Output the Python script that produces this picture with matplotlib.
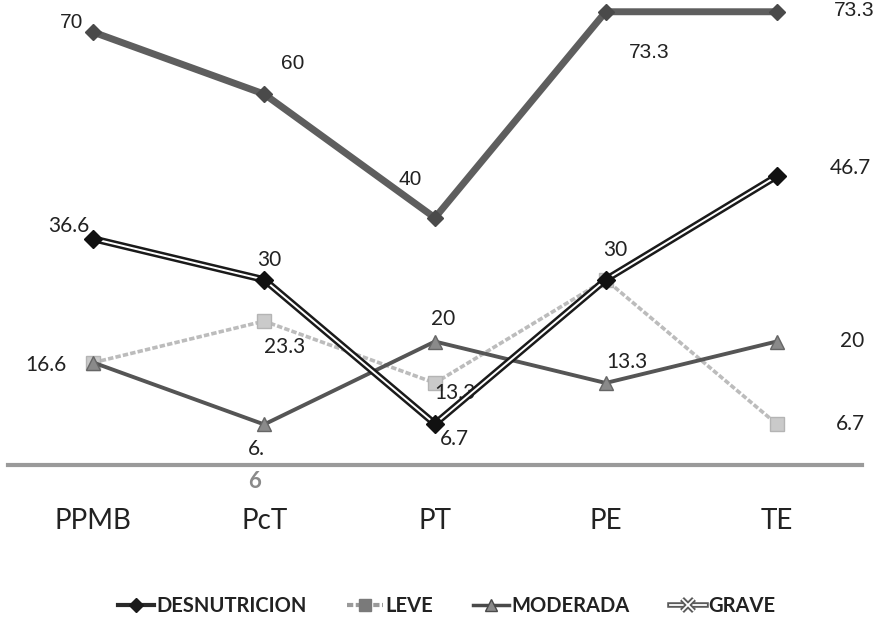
import matplotlib
matplotlib.use("Agg")
import matplotlib.pyplot as plt
from matplotlib.lines import Line2D
import matplotlib.patheffects as pe

categories = ["PPMB", "PcT", "PT", "PE", "TE"]
desnutricion = [70, 60, 40, 73.3, 73.3]
leve = [16.6, 23.3, 13.3, 30, 6.7]
moderada = [16.6, 6.6, 20, 13.3, 20]
grave = [36.6, 30, 6.7, 30, 46.7]
legend_labels = ["DESNUTRICION", "LEVE", "MODERADA", "GRAVE"]

fig = plt.figure(figsize=(8.84, 6.4), dpi=100)
ax = fig.add_axes([0.009, 0.273, 0.966, 0.727])
x = list(range(len(categories)))

# LEVE (light dotted)
ax.plot(x, leve, color="#bcbcbc", lw=2.6, ls=(0, (1.5, 0.6)), marker="s",
        ms=10, mfc="#cacaca", mec="#b4b4b4", zorder=2)
# MODERADA
ax.plot(x, moderada, color="#555555", lw=2.8, marker="^", ms=10,
        mfc="#8a8a8a", mec="#666666", zorder=3)
# DESNUTRICION
ax.plot(x, desnutricion, color="#5e5e5e", lw=5, marker="D", ms=8,
        mfc="#4a4a4a", mec="#4a4a4a", zorder=4)
# GRAVE double line
ax.plot(x, grave, color="#1a1a1a", lw=5, zorder=5, solid_capstyle="butt")
ax.plot(x, grave, color="white", lw=1.4, zorder=6)
ax.plot(x, grave, ls="none", marker="D", ms=9, mfc="#111111", mec="#111111", zorder=7)

ax.set_xlim(-0.5, 4.5)
ax.set_ylim(0, 75.2)
for s in ["top", "right", "left"]:
    ax.spines[s].set_visible(False)
ax.spines["bottom"].set_color("#9a9a9a")
ax.spines["bottom"].set_linewidth(3)
ax.set_yticks([])
ax.set_xticks(x)
ax.set_xticklabels(categories, fontsize=20, family="Lato", color="#222222")
ax.tick_params(axis="x", length=0, pad=31)

lab = dict(fontsize=15, color="#222222", family="Lato")
arial = dict(fontsize=15, color="#222222", family="Liberation Sans")

def ann(xi, yi, txt, dx, dy, ha="center", **kw):
    ax.annotate(txt, (xi, yi), xytext=(dx, dy), textcoords="offset pixels",
                ha=ha, va="center", annotation_clip=False, **kw)

# DESNUTRICION labels
ann(0, desnutricion[0], "70", -22, 10, **arial)
ann(1, desnutricion[1], "60", 29, 31, **arial)
ann(2, desnutricion[2], "40", -25, 38, **arial)
ann(3, desnutricion[3], "73.3", 43, -41, **arial)
ann(4, desnutricion[4], "73.3", 78, 1, **arial)

# GRAVE labels
ann(0, grave[0], "36.6", -25, 13, **lab)
ann(1, grave[1], "30", 5, 20, **lab)
ann(2, grave[2], "6.7", 20, -15, **lab)
ann(3, grave[3], "30", 10, 30, **lab)
ann(4, grave[4], "46.7", 74, 8, **lab)

# LEVE labels
ann(0, leve[0], "16.6", -47, -2, **lab)
ann(1, leve[1], "23.3", 20, -26, **lab)
ann(2, leve[2], "13.3", 20, -10, **lab)
ann(4, leve[4], "6.7", 74, 0, **lab)

# MODERADA labels
ann(1, moderada[1], "6.", -8, -25, **lab)
ann(1, 0, "6", -10, -16, fontsize=16, fontweight="bold", color="#8a8a8a", family="Lato")
ann(2, moderada[2], "20", 8, 23, **lab)
ann(3, moderada[3], "13.3", 21, 21, **lab)
ann(4, moderada[4], "20", 76, 1, **lab)

# legend
handles = [
    Line2D([], [], color="#2a2a2a", lw=3, marker="D", ms=7, mfc="#1a1a1a", mec="#1a1a1a"),
    Line2D([], [], color="#9a9a9a", lw=3, ls=(0, (1.5, 0.6)), marker="s", ms=8,
           mfc="#7a7a7a", mec="#7a7a7a"),
    Line2D([], [], color="#4a4a4a", lw=2.5, marker="^", ms=8, mfc="#8a8a8a", mec="#4a4a4a"),
    Line2D([], [], color="#5a5a5a", lw=4, marker="x", ms=9, mec="#5a5a5a",
           path_effects=[pe.Stroke(linewidth=4, foreground="#5a5a5a"),
                         pe.Stroke(linewidth=1.3, foreground="white")]),
]
leg = fig.legend(handles, legend_labels, loc="center", bbox_to_anchor=(0.505, 0.053),
                 ncol=4, frameon=False, handlelength=1.8, handletextpad=0.1,
                 columnspacing=2.0, prop={"family": "Lato", "size": 14.5, "weight": "bold"})
for t in leg.get_texts():
    t.set_color("#222222")

fig.savefig("out.png", dpi=100, facecolor="white")
